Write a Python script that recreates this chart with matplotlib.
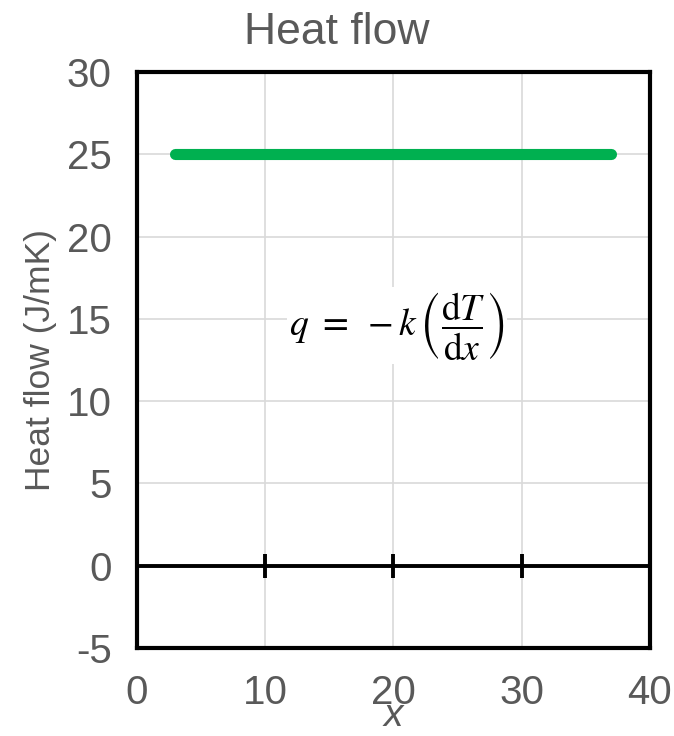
import matplotlib.pyplot as plt

plt.rcParams['font.family'] = ['Liberation Sans', 'DejaVu Sans']
plt.rcParams['mathtext.fontset'] = 'stix'
plt.rcParams['axes.unicode_minus'] = False

# data
x_flow = [3, 37]
q_flow = [25, 25]
x_ticks = [0, 10, 20, 30, 40]
y_ticks = [-5, 0, 5, 10, 15, 20, 25, 30]
zero_ticks = [10, 20, 30]

grey = '#595959'

fig = plt.figure(figsize=(6.74, 7.36), dpi=100)
ax = fig.add_axes([0.203, 0.1196, 0.761, 0.7824])

ax.set_xlim(0, 40)
ax.set_ylim(-5, 30)
ax.set_xticks(x_ticks)
ax.set_yticks(y_ticks)
ax.grid(True, color='#d9d9d9', lw=1.2)
ax.set_axisbelow(True)

ax.plot(x_flow, q_flow, color='#00b050', lw=8, solid_capstyle='round', zorder=3)

# axis line through zero with cross ticks
ax.axhline(0, color='black', lw=2.8, zorder=4)
ax.plot(zero_ticks, [0] * len(zero_ticks), ls='none', marker='|',
        markersize=17, mew=2.8, color='black', zorder=4)

for s in ax.spines.values():
    s.set_linewidth(3)
    s.set_color('black')

ax.tick_params(length=0, labelsize=29, labelcolor=grey)
ax.tick_params(axis='y', pad=18)
ax.tick_params(axis='x', pad=19)

fig.suptitle('Heat flow', fontsize=32, color=grey, x=0.5, y=0.984)
ax.set_ylabel('Heat flow (J/mK)', fontsize=25.5, color=grey, labelpad=7)
ax.set_xlabel('x', fontsize=28, color=grey, style='italic', labelpad=-10)

ax.text(20.3, 14.6, r'$q\ =\ -k\,\left(\dfrac{\mathrm{d}T}{\mathrm{d}x}\right)$',
        fontsize=27, ha='center', va='center', zorder=5,
        bbox=dict(facecolor='white', edgecolor='none', pad=2))

fig.savefig('out.png', dpi=100)
